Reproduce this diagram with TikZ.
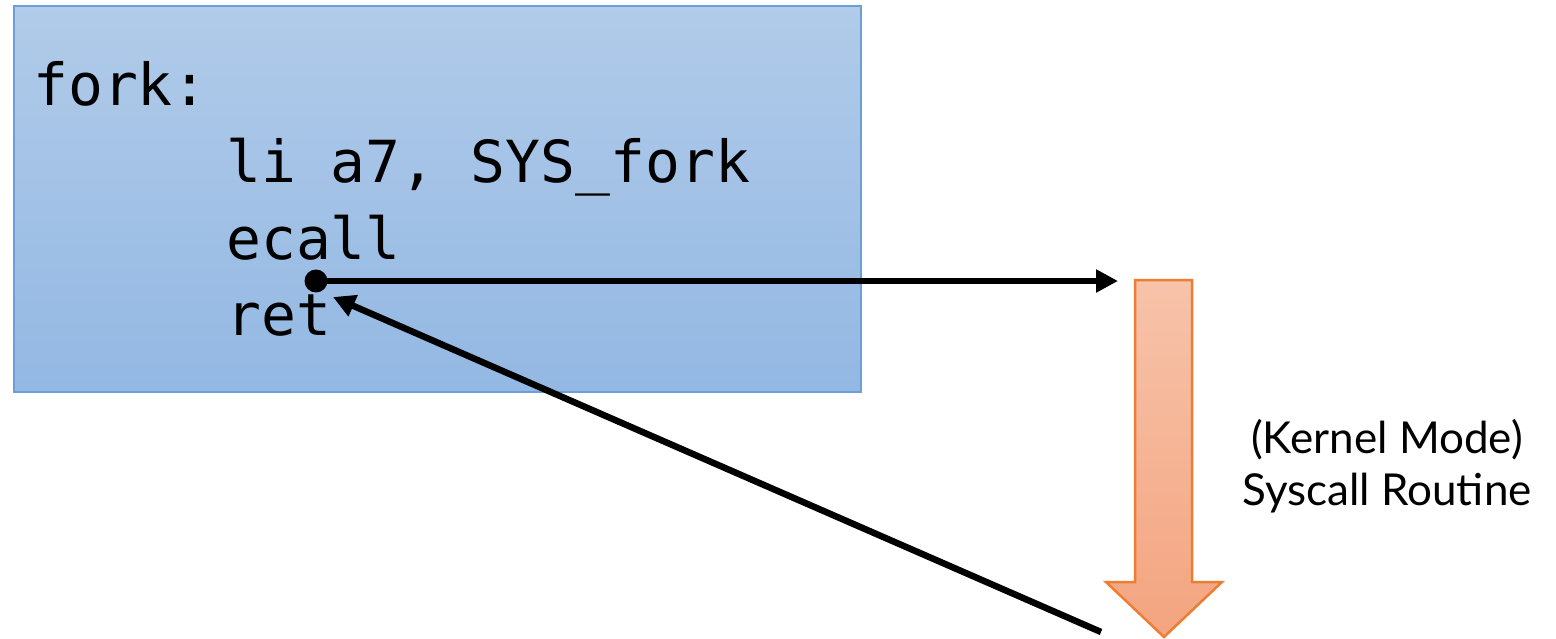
\documentclass[tikz,border=0pt]{standalone}
\usepackage{fontspec}
\setmonofont{DejaVu Sans Mono}
\newfontfamily\labelfont{Lato}
\usetikzlibrary{arrows.meta,shapes.arrows}
\definecolor{boxtop}{HTML}{B1CBE9}
\definecolor{boxbot}{HTML}{93B8E3}
\definecolor{boxline}{HTML}{6A9FD8}
\definecolor{ortop}{HTML}{F7C3AA}
\definecolor{orbot}{HTML}{F4A47F}
\definecolor{orline}{HTML}{ED7D31}
\tikzset{
  code/.style={font=\fontsize{58}{62}\selectfont\ttfamily, anchor=base west, inner sep=0pt},
  conn/.style={line width=6.5pt, -{Triangle[length=22pt,width=22pt]}},
  lbl/.style={font=\fontsize{44}{52}\selectfont\labelfont, align=center, inner sep=0pt},
}
\begin{document}
\begin{tikzpicture}[x=1pt,y=-1pt]
\useasboundingbox (0,0) rectangle (1556,639);
% code box
\path[top color=boxtop, bottom color=boxbot, draw=boxline, line width=2.5pt]
  (14,6) rectangle (861,392);
\node[code] (fork) at (33,106) {fork:};
\node[code] (li) at (226,183) {li a7, SYS\_fork};
\node[code] (ecall) at (226,260) {ecall};
\node[code] (ret) at (226,335) {ret};
% kernel arrow
\path[top color=ortop, bottom color=orbot, draw=orline, line width=2.5pt]
  (1135,280) -- (1192,280) -- (1192,582) -- (1222,582) -- (1164,637)
  -- (1106,582) -- (1135,582) -- cycle;
\coordinate (ktop) at (1118,281);
\coordinate (kbot) at (1101,632);
\node[lbl] (klabel) at (1387,466) {(Kernel Mode)\\Syscall Routine};
% connectors
\coordinate (dot) at (316,281);
\fill (dot) circle (11.5pt);
\draw[conn] (dot) -- (ktop);
\draw[conn] (kbot) -- (333,297);
\end{tikzpicture}
\end{document}
